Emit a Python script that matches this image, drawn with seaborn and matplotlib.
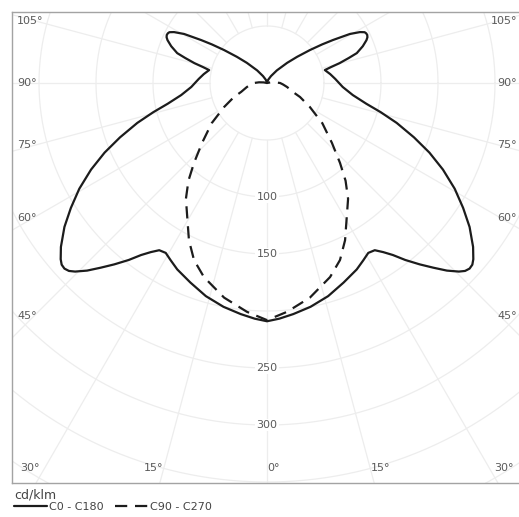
import numpy as np
import pandas as pd
import matplotlib
matplotlib.use("Agg")
import matplotlib.pyplot as plt
from matplotlib.lines import Line2D
import seaborn as sns

# Luminous intensity distribution, gamma measured from nadir (deg), values in cd/klm
gamma_c0 = [0, 3, 6.5, 11, 16, 21, 25.7, 28.5, 30.8, 32.8, 34.5, 36.2, 38, 40.1, 42,
            43.8, 45.5, 46.5, 47.5, 48.5, 49.5, 51.5, 54.6, 57.5, 60.6, 63.8, 66.8, 69.7,
            72.9, 75.6, 78.2, 82, 87, 93.4, 98, 102.6, 104, 105.3, 107, 108.4, 111, 113.3,
            114.5, 115.6, 116.6, 117.5, 118.7, 120.6, 123.1, 125, 127.5, 131, 135, 142,
            150, 160, 180]
cd_c0 = [209, 207, 204, 200, 194.5, 187.5, 181.5, 177, 173.5, 174.5, 180, 187, 197, 208, 218,
         228, 236, 239.5, 241, 240.5, 238, 231, 218, 204, 189, 172, 155, 137.5,
         119, 103, 89, 76, 66.5, 60, 56, 52, 58, 66, 75, 83, 90, 95,
         96.8, 97.5, 97.3, 96.5, 93, 84.5, 69, 59, 47.5, 35, 25, 14,
         7, 3, 0]

gamma_c90 = [0, 5, 11.3, 18, 22.4, 26.4, 31.6, 35, 38.8, 42.4, 47.3, 54, 60.8, 67, 71,
             78.7, 85, 90, 95, 100, 110, 180]
cd_c90 = [208, 201.5, 192, 179, 168, 154, 134, 124, 110, 95, 77.5, 60, 43, 31.5, 24,
          18, 14, 11.5, 7, 3, 0, 0]

series_names = ["C0 - C180", "C90 - C270"]
unit_label = "cd/klm"
ring_values = [50, 100, 150, 200, 250, 300, 350, 400]
ring_labels = [100, 150, 250, 300]
bottom_angles = [0, 15, 30]
side_angles = [45, 60, 75, 90, 105]

# Build both symmetric half-planes as one outline per series
rows = []
for name, g, v in [(series_names[0], gamma_c0, cd_c0), (series_names[1], gamma_c90, cd_c90)]:
    g = np.radians(np.asarray(g, float))
    v = np.asarray(v, float)
    # left half (C180 / C270), from zenith down to nadir
    xl = -(v * np.sin(g))[::-1]
    yl = -(v * np.cos(g))[::-1]
    # right half (C0 / C90), from nadir up to zenith
    xr = v * np.sin(g)
    yr = -v * np.cos(g)
    xs = np.concatenate([xl, xr[1:]])
    ys = np.concatenate([yl, yr[1:]])
    for i, (a, b) in enumerate(zip(xs, ys)):
        rows.append({"series": name, "idx": i, "x": a, "y": b})
df = pd.DataFrame(rows)

W, H = 519, 517
fig = plt.figure(figsize=(W / 100, H / 100), dpi=100)
sns.set_style("white")
plt.rcParams["font.family"] = ["DejaVu Sans"]

# axes frame in pixels: left 12, top 12, bottom 483, width 510
ax = fig.add_axes([12 / W, (H - 483) / H, 510 / W, 471 / H])
px = 1.14  # pixels per cd/klm
ax.set_xlim(-255 / px, 255 / px)
ax.set_ylim(-400 / px, 71 / px)

grid_col = "#ededed"
t = np.linspace(0, 2 * np.pi, 721)
for r in ring_values:
    ax.plot(r * np.cos(t), r * np.sin(t), color=grid_col, lw=0.9, zorder=0)
for a in range(0, 360, 15):
    ar = np.radians(a)
    ax.plot([50 * np.sin(ar), 700 * np.sin(ar)], [-50 * np.cos(ar), -700 * np.cos(ar)],
            color=grid_col, lw=0.9, zorder=0)

line_col = "#1c1c1c"
sns.lineplot(data=df, x="x", y="y", hue="series", style="series", units="series",
             sort=False, estimator=None, ax=ax, legend=False,
             palette={series_names[0]: line_col, series_names[1]: line_col},
             dashes={series_names[0]: "", series_names[1]: (5.5, 3.5)},
             linewidth=1.6, zorder=3)
for ln in ax.lines[-2:]:
    ln.set_solid_joinstyle("round")
    ln.set_dash_joinstyle("round")

txt_col = "#5a5a5a"
# ring values along the nadir axis
for r in ring_labels:
    ax.text(0, -r, f"{r}", ha="center", va="center", fontsize=8, color=txt_col,
            bbox=dict(boxstyle="square,pad=0.1", fc="white", ec="none"), zorder=2)

# angle labels along the lower edge
y_edge = -400 / px
for a in bottom_angles:
    for s in ([1] if a == 0 else [-1, 1]):
        xa = s * (abs(y_edge) * np.tan(np.radians(a)) + 6 / px)
        ax.text(xa, -385 / px, f"{a}°", ha="center", va="center", fontsize=8,
                color=txt_col, zorder=2)

# angle labels along the side edges
x_in = 233 / px
for a in side_angles:
    ya = -x_in / np.tan(np.radians(a)) if a != 90 else 0.0
    ax.text(-250 / px, ya, f"{a}°", ha="left", va="center", fontsize=8,
            color=txt_col, zorder=2)
    ax.text(250 / px, ya, f"{a}°", ha="right", va="center", fontsize=8,
            color=txt_col, zorder=2)

ax.set_xticks([])
ax.set_yticks([])
ax.set_xlabel("")
ax.set_ylabel("")
for side in ["top", "left", "bottom"]:
    ax.spines[side].set_color("#a3a3a3")
    ax.spines[side].set_linewidth(1.0)
ax.spines["right"].set_visible(False)

handles = [Line2D([], [], color=line_col, lw=1.6),
           Line2D([], [], color=line_col, lw=1.6, dashes=(5.5, 3.5))]
leg = fig.legend(handles, series_names, title=unit_label, loc="upper left",
                 bbox_to_anchor=(14 / W, 1 - 488 / H), ncol=2, frameon=False,
                 fontsize=8, title_fontsize=9, handlelength=3.0, handletextpad=0.15,
                 columnspacing=1.0, borderpad=0, borderaxespad=0, alignment="left",
                 labelspacing=0.1)
for tx in leg.get_texts():
    tx.set_color("#444444")
leg.get_title().set_color("#444444")

fig.savefig("out.png", dpi=100)
